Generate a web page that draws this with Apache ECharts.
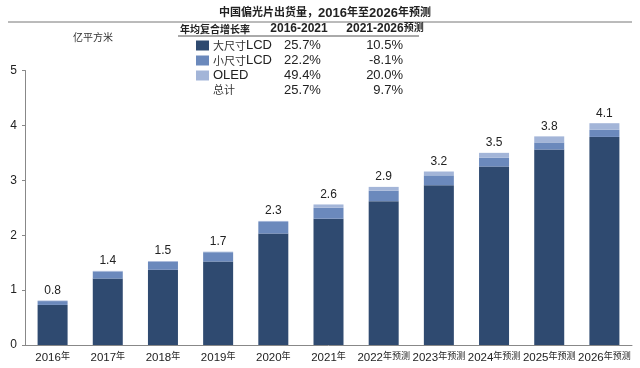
<!DOCTYPE html>
<html><head><meta charset="utf-8">
<script src="https://cdn.jsdelivr.net/npm/echarts@6/dist/echarts.min.js"></script>
<style>html,body{margin:0;padding:0;background:#fff}#c{width:640px;height:368px}</style>
</head><body><div id="c"></div>
<script>
var categories = ['2016年','2017年','2018年','2019年','2020年','2021年','2022年预测','2023年预测','2024年预测','2025年预测','2026年预测'];
var largeLCD = [0.73,1.21,1.37,1.52,2.03,2.30,2.62,2.91,3.25,3.56,3.79];
var smallLCD = [0.07,0.13,0.15,0.17,0.21,0.20,0.19,0.18,0.16,0.13,0.13];
var oled = [0.01,0.01,0.01,0.01,0.02,0.06,0.07,0.07,0.09,0.11,0.12];
var totals = ['0.8','1.4','1.5','1.7','2.3','2.6','2.9','3.2','3.5','3.8','4.1'];
var seriesNames = ['大尺寸LCD','小尺寸LCD','OLED'];
var cagrHeader = ['年均复合增长率','2016-2021','2021-2026预测'];
var cagr1621 = ['25.7%','22.2%','49.4%','25.7%'];
var cagr2126 = ['10.5%','-8.1%','20.0%','9.7%'];
var totalName = '总计';
var titleParts = ['中国偏光片出货量，', '2016年至2026年预测'];
var unit = '亿平方米';

var colors = ['#2f4a70','#6b89bc','#a3b5d8'];
var cjk = '"Noto Sans CJK SC","Liberation Sans",Arial,sans-serif';
var lat = '"Liberation Sans",Arial,sans-serif';
var chart = echarts.init(document.getElementById('c'));

// split text into latin and CJK runs for rich text
function richSplit(s) {
  var out = '', cur = '', curType = null;
  for (var i = 0; i < s.length; i++) {
    var ch = s[i];
    var t = /[\u0000-\u00ff]/.test(ch) ? 'l' : 'c';
    if (t !== curType && cur) { out += '{' + curType + '|' + cur + '}'; cur = ''; }
    curType = t; cur += ch;
  }
  if (cur) out += '{' + curType + '|' + cur + '}';
  return out;
}

var rowsY = [45.5, 60.5, 75.5, 90];
var graphics = [
  {type:'text', x:325, y:13, style:{text:richSplit(titleParts[0] + titleParts[1]), textAlign:'center', textVerticalAlign:'middle',
    rich:{c:{font:'bold 11px ' + cjk, fill:'#222', lineHeight:16, verticalAlign:'middle', padding:[0,0,2,0]}, l:{font:'bold 13px ' + lat, fill:'#222', lineHeight:16, verticalAlign:'middle'}}}},
  {type:'line', shape:{x1:8,y1:22,x2:632,y2:22}, style:{stroke:'#777', lineWidth:1}},
  {type:'text', x:73, y:37, style:{text:unit, font:'10px ' + cjk, fill:'#333', textVerticalAlign:'middle'}},
  {type:'text', x:180, y:29, style:{text:cagrHeader[0], font:'bold 10px ' + cjk, fill:'#222', textVerticalAlign:'middle'}},
  {type:'text', x:299, y:29, style:{text:cagrHeader[1], font:'bold 12px ' + lat, fill:'#222', textAlign:'center', textVerticalAlign:'middle'}},
  {type:'text', x:385, y:29, style:{text:richSplit(cagrHeader[2]), textAlign:'center', textVerticalAlign:'middle',
    rich:{c:{font:'bold 10px ' + cjk, fill:'#222', lineHeight:14, verticalAlign:'middle', padding:[0,0,4,0]}, l:{font:'bold 12px ' + lat, fill:'#222', lineHeight:14, verticalAlign:'middle'}}}},
  {type:'line', shape:{x1:178,y1:36,x2:419,y2:36}, style:{stroke:'#555', lineWidth:1}},
  {type:'text', x:213, y:rowsY[3], style:{text:totalName, font:'11px ' + cjk, fill:'#333', textVerticalAlign:'middle'}}
];
for (var i = 0; i < 4; i++) {
  graphics.push({type:'text', x:302.5, y:rowsY[i], style:{text:cagr1621[i], font:'13px ' + lat, fill:'#222', textAlign:'center', textVerticalAlign:'middle'}});
  graphics.push({type:'text', x:403, y:rowsY[i], style:{text:cagr2126[i], font:'13px ' + lat, fill:'#222', textAlign:'right', textVerticalAlign:'middle'}});
}

var dataArrays = [largeLCD, smallLCD, oled];
var series = dataArrays.map(function(d, k){
  var s = {name:seriesNames[k], type:'bar', stack:'a', data:d, barWidth:30,
    itemStyle:{color:colors[k]}};
  if (k === 2) {
    s.label = {show:true, position:'top', distance:4, color:'#222', fontSize:12,
      fontFamily:lat, formatter:function(p){return totals[p.dataIndex];}};
  }
  return s;
});

chart.setOption({
  animation:false,
  color:colors,
  textStyle:{fontFamily:cjk},
  legend:{orient:'vertical', left:196, top:38.5, padding:0, itemWidth:13, itemHeight:10, itemGap:1,
    icon:'rect', selectedMode:false,
    formatter:function(n){return richSplit(n);},
    textStyle:{color:'#333', lineHeight:14, padding:[0,0,0,-1],
      rich:{c:{fontSize:11, fontFamily:cjk, color:'#333', lineHeight:14}, l:{fontSize:13, fontFamily:lat, color:'#222', lineHeight:14}}},
    data:seriesNames},
  grid:{left:25, right:8, top:70.5, bottom:23, containLabel:false},
  xAxis:{type:'category', data:categories,
    axisLine:{lineStyle:{color:'#888'}}, axisTick:{show:false},
    axisLabel:{interval:0, margin:6, lineHeight:14, formatter:function(v){return richSplit(v);},
      rich:{c:{fontSize:9, fontFamily:cjk, color:'#222', lineHeight:14, verticalAlign:'middle', padding:[0,0,4,0]},
            l:{fontSize:11.5, fontFamily:lat, color:'#222', lineHeight:14, verticalAlign:'middle'}}}},
  yAxis:{type:'value', min:0, max:5, interval:1,
    axisLine:{show:true, lineStyle:{color:'#888'}}, axisTick:{show:true, length:3, lineStyle:{color:'#888'}},
    splitLine:{show:false},
    axisLabel:{color:'#222', fontSize:12, margin:8, fontFamily:lat}},
  series:series,
  graphic:graphics
});
</script></body></html>
